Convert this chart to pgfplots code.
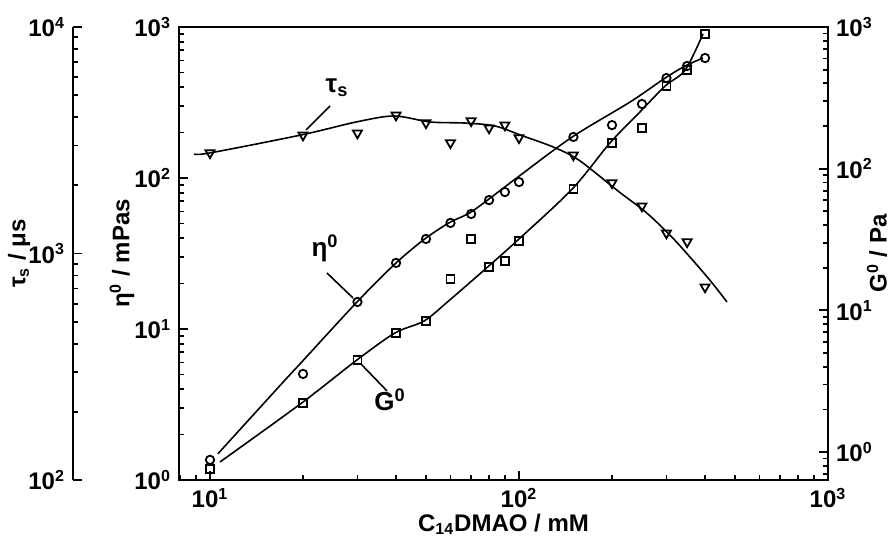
\documentclass[border=0pt]{standalone}
\usepackage{pgfplots}
\pgfplotsset{compat=1.18}
\usepackage{fontspec}
\setmainfont{Liberation Sans}
\setsansfont{Liberation Sans}
\newcommand{\fs}{\fontsize{12}{14}\selectfont\bfseries}
\pgfplotsset{
 myaxbase/.style={scale only axis, height=226.5pt, anchor=south west, line width=1.4pt,
   tick align=inside, major tick length=4.5pt, minor tick length=2.6pt,
   tick style={line width=0.9pt, black},
   tick label style={font=\fs}, label style={font=\fs}, clip=false},
 mylnstyle/.style={black, line width=0.8pt, smooth, no marks}
}
\begin{document}
\begin{tikzpicture}
\useasboundingbox (0,0) rectangle (445pt,268.5pt);
% ---- tau_s axis (far left scale) ----
\begin{axis}[xmode=log, ymode=log, myaxbase, at={(36.5pt,28.5pt)}, width=377.5pt, xmin=3.603, xmax=1000, ymin=100, ymax=10000,
  axis y line*=left, axis x line=none,
  ytick={100,1000,10000}, yticklabels={10\textsuperscript{2},10\textsuperscript{3},10\textsuperscript{4}},
  minor ytick={200,300,400,500,600,700,800,900,2000,3000,4000,5000,6000,7000,8000,9000},
  ylabel={τ\textsubscript{s} / μs},
  ylabel style={at={(rel axis cs:-0.0715,0.5)}, anchor=center}]
\addplot[mylnstyle] coordinates {(8.88,2750) (10,2780) (19.7,3335) (29.7,3807) (39.4,4047) (51.6,3807) (66.9,3767) (83.6,3656) (103,3302) (129,2953) (156,2588) (211,1870) (259,1510) (319,1147) (409,780) (471,611)};
\addplot[only marks, black, mark=triangle, mark size=2.6pt, mark options={fill=white, line width=0.9pt, solid, rotate=180}] coordinates {
(10,2780) (20,3330) (30,3400) (40,4080) (50,3770) (60,3080) (70,3850) (80,3580) (90,3690) (100,3240) (150,2720) (200,2050) (250,1620) (300,1230) (350,1125) (400,711)};
\end{axis}
% ---- main eta axis ----
\begin{axis}[xmode=log, ymode=log, myaxbase, at={(89.5pt,28.5pt)}, width=324.5pt, xmin=7.9375, xmax=1000, ymin=1, ymax=1000,
  xtick pos=left, ytick pos=left,
  xtick={10,100,1000}, xticklabels={10\textsuperscript{1},10\textsuperscript{2},10\textsuperscript{3}},
  minor xtick={8,9,20,30,40,50,60,70,80,90,200,300,400,500,600,700,800,900},
  ytick={1,10,100,1000}, yticklabels={10\textsuperscript{0},10\textsuperscript{1},10\textsuperscript{2},10\textsuperscript{3}},
  minor ytick={2,3,4,5,6,7,8,9,20,30,40,50,60,70,80,90,200,300,400,500,600,700,800,900},
  xlabel={C\textsubscript{14}DMAO / mM}, xlabel style={yshift=4.5pt},
  ylabel={η\textsuperscript{0} / mPas},
  ylabel style={at={(rel axis cs:-0.0878,0.5)}, anchor=center}]
\addplot[mylnstyle] coordinates {(10.6,1.49) (17.5,4.6) (19.8,6.04) (29.9,15.1) (39.7,27.0) (49.3,39.2) (59.3,50.4) (69.0,58.5) (79.1,71.4) (99.2,101.5) (148.7,187) (229,319) (297,459) (345,552) (394,623)};
\addplot[only marks, black, mark=o, mark size=2.1pt, mark options={fill=white, line width=0.9pt, solid}] coordinates {
(10,1.36) (20,5.04) (30,15.1) (40,27.4) (50,39.5) (60,50.4) (70,57.8) (80,71.4) (90,80.7) (100,94) (150,187) (200,224) (250,309) (300,459) (350,552) (400,623)};
\draw[line width=0.8pt] (rel axis cs:0.2327,0.8256) -- (rel axis cs:0.1957,0.7726);
\node[font=\fontsize{13}{15}\selectfont\bfseries] at (rel axis cs:0.2435,0.8653) {τ\textsubscript{s}};
\draw[line width=0.8pt] (rel axis cs:0.2280,0.4570) -- (rel axis cs:0.2681,0.4018);
\node[font=\fontsize{13}{15}\selectfont\bfseries] at (rel axis cs:0.225,0.5121) {η\textsuperscript{0}};
\draw[line width=0.8pt] (rel axis cs:0.2804,0.2561) -- (rel axis cs:0.3205,0.1965);
\node[font=\fontsize{13}{15}\selectfont\bfseries] at (rel axis cs:0.3251,0.1766) {G\textsuperscript{0}};
\end{axis}
% ---- G0 axis (right) ----
\begin{axis}[xmode=log, ymode=log, myaxbase, at={(89.5pt,28.5pt)}, width=324.5pt, xmin=7.9375, xmax=1000, ymin=0.635, ymax=1000,
  axis y line*=right, axis x line=none,
  ytick={1,10,100,1000}, yticklabels={10\textsuperscript{0},10\textsuperscript{1},10\textsuperscript{2},10\textsuperscript{3}},
  minor ytick={0.7,0.8,0.9,2,3,4,5,6,7,8,9,20,30,40,50,60,70,80,90,200,300,400,500,600,700,800,900},
  ylabel={G\textsuperscript{0} / Pa},
  ylabel style={at={(rel axis cs:1.0755,0.5)}, anchor=center}]
\addplot[mylnstyle] coordinates {(10.77,0.851) (19.8,2.22) (29.9,4.47) (39.7,6.93) (49.3,8.42) (59.3,11.7) (79.1,20.2) (99.2,31.4) (148.7,71.9) (197,152) (246,251) (297,383) (345,497) (394,893)};
\addplot[only marks, black, mark=square, mark size=2.0pt, mark options={fill=white, line width=0.9pt, solid}] coordinates {
(10,0.76) (20,2.22) (30,4.47) (40,6.93) (50,8.42) (60,16.7) (70,31.9) (80,20.2) (90,22.3) (100,30.9) (150,71.9) (200,152) (250,194) (300,383) (350,497) (400,893)};
\end{axis}
\end{tikzpicture}
\end{document}
